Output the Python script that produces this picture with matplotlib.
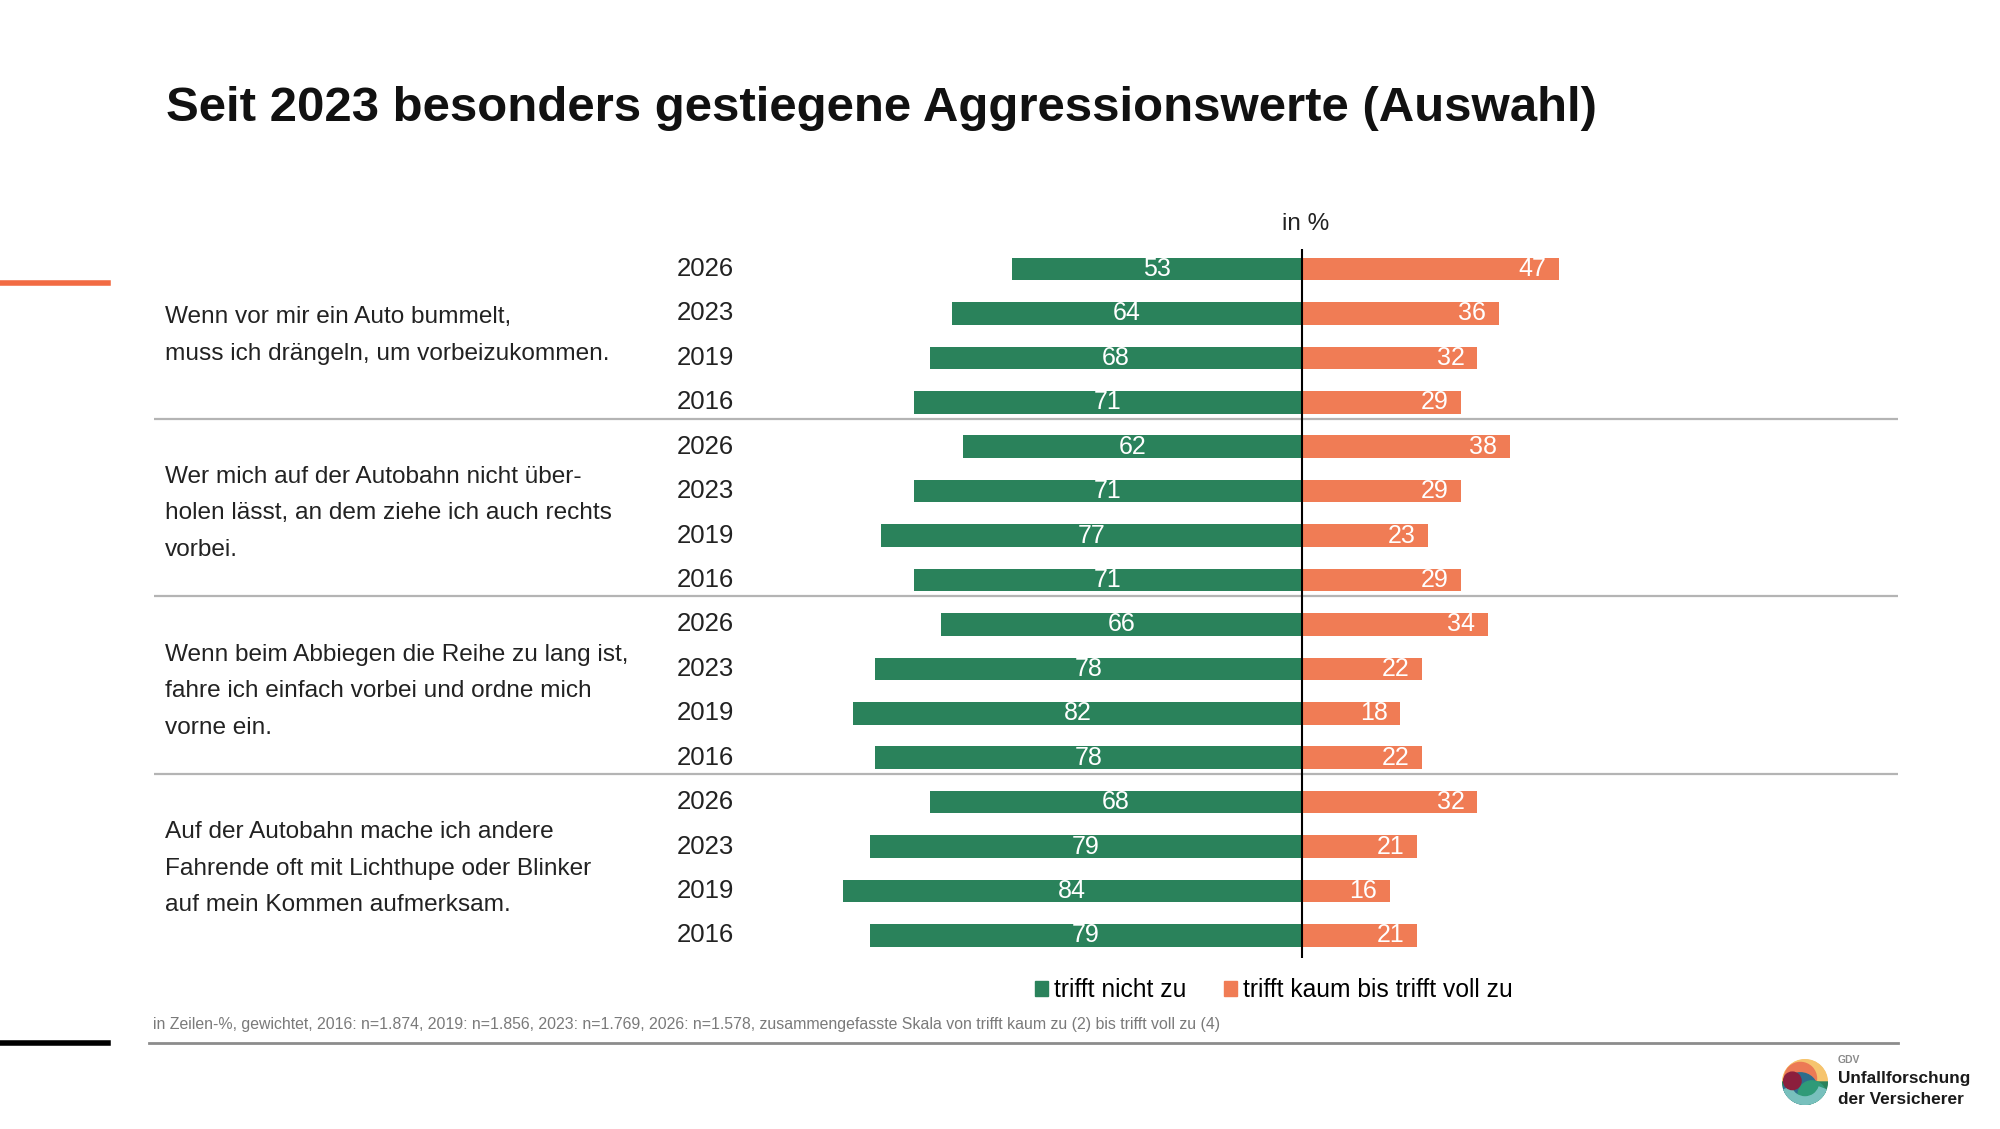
import matplotlib.pyplot as plt
from matplotlib.lines import Line2D
from matplotlib.patches import Circle, Wedge, Patch

plt.rcParams['font.family'] = ['Liberation Sans', 'DejaVu Sans']

# Daten
statements = [
    'Wenn vor mir ein Auto bummelt,\nmuss ich drängeln, um vorbeizukommen.',
    'Wer mich auf der Autobahn nicht über-\nholen lässt, an dem ziehe ich auch rechts\nvorbei.',
    'Wenn beim Abbiegen die Reihe zu lang ist,\nfahre ich einfach vorbei und ordne mich\nvorne ein.',
    'Auf der Autobahn mache ich andere\nFahrende oft mit Lichthupe oder Blinker\nauf mein Kommen aufmerksam.',
]
years = ['2026', '2023', '2019', '2016']
trifft_nicht = [53, 64, 68, 71, 62, 71, 77, 71, 66, 78, 82, 78, 68, 79, 84, 79]
trifft_voll = [47, 36, 32, 29, 38, 29, 23, 29, 34, 22, 18, 22, 32, 21, 16, 21]

title = 'Seit 2023 besonders gestiegene Aggressionswerte (Auswahl)'
footnote = ('in Zeilen-%, gewichtet, 2016: n=1.874, 2019: n=1.856, 2023: n=1.769, '
            '2026: n=1.578, zusammengefasste Skala von trifft kaum zu (2) bis trifft voll zu (4)')

GREEN = '#2a825b'
ORANGE = '#f07c55'
W, H = 2000, 1129


def fx(px):
    return px / W


def fy(py):
    return 1 - py / H


fig = plt.figure(figsize=(20, 11.29), dpi=100)

# Achse: x=0 bei 1302px, 5.47px pro Prozent
ppu = 5.47
x0 = 1302
left_px, right_px = 154, 1898
top_px, bot_px = 249, 958
row0, step = 269.0, 44.43
ax = fig.add_axes([fx(left_px), fy(bot_px), (right_px - left_px) / W, (bot_px - top_px) / H])
ax.set_xlim((left_px - x0) / ppu, (right_px - x0) / ppu)
ax.set_ylim((bot_px - row0) / step, (top_px - row0) / step)
ax.axis('off')

rows = list(range(len(trifft_nicht)))
ax.barh(rows, [-v for v in trifft_nicht], height=0.51, color=GREEN)
ax.barh(rows, trifft_voll, height=0.51, color=ORANGE)

for i, (g, o) in enumerate(zip(trifft_nicht, trifft_voll)):
    ax.text(-g / 2, i, str(g), color='white', fontsize=18, ha='center', va='center')
    ax.text(o - 2.3, i, str(o), color='white', fontsize=18, ha='right', va='center')
    ax.text((677 - x0) / ppu, i, years[i % 4], fontsize=18.5, ha='left', va='center', color='#222222')

for k, s in enumerate(statements):
    ax.text((165 - x0) / ppu, 4 * k + 1.5, s, fontsize=17.6, ha='left', va='center',
            linespacing=1.85, color='#222222')

for sep in [3.37, 7.37, 11.37]:
    ax.axhline(sep, color='#b4b4b4', lw=1.6)
ax.axvline(0, color='black', lw=1.5)

# Titel und Beschriftungen
fig.text(fx(166), fy(121), title, fontsize=35.4, fontweight='bold', va='baseline', color='#111111')
fig.text(fx(1306), fy(224), 'in %', fontsize=17.5, ha='center', va='center', color='#222222')

handles = [Patch(color=GREEN, label='trifft nicht zu'),
           Patch(color=ORANGE, label='trifft kaum bis trifft voll zu')]
fig.legend(handles=handles, loc='center', bbox_to_anchor=(fx(1274), fy(990)), ncol=2,
           frameon=False, fontsize=17.7, handlelength=0.55, handleheight=0.55,
           handletextpad=0.25, columnspacing=1.5)

fig.text(fx(153), fy(1024), footnote, fontsize=11.4, color='#7a7a7a', va='center')

# Linien
fig.add_artist(Line2D([fx(149), fx(1898)], [fy(1043), fy(1043)], color='#8c8c8c', lw=2))
fig.add_artist(Line2D([0, fx(108)], [fy(283), fy(283)], color='#f26b43', lw=4))
fig.add_artist(Line2D([0, fx(108)], [fy(1043), fy(1043)], color='black', lw=4))

# Logo
lax = fig.add_axes([fx(1782), fy(1105), 46 / W, 46 / H])
lax.set_xlim(-1, 1)
lax.set_ylim(-1, 1)
lax.set_aspect('equal')
lax.axis('off')
clip = Circle((0, 0), 1, transform=lax.transData)
parts = [
    Wedge((0, 0), 1, 0, 180, color='#f6c46e'),
    Wedge((0, 0), 1, 180, 360, color='#2a825b'),
    Circle((-0.2, 0.15), 0.7, color='#ec7a55'),
    Circle((-0.2, -0.35), 0.75, color='#2d6d8c'),
    Circle((0.3, -0.55), 0.6, color='#2f9a78'),
    Wedge((0, 0), 1, 200, 340, width=0.35, color='#78c0bd'),
    Circle((-0.55, 0.05), 0.38, color='#8c1f3d'),
]
for p in parts:
    lax.add_patch(p)
    p.set_clip_path(clip)

fig.text(fx(1838), fy(1060), 'GDV', fontsize=7.5, fontweight='bold', color='#8a8a8a', va='center')
fig.text(fx(1838), fy(1079), 'Unfallforschung', fontsize=12.4, fontweight='bold', color='#1a1a1a', va='center')
fig.text(fx(1838), fy(1099), 'der Versicherer', fontsize=12.4, fontweight='bold', color='#1a1a1a', va='center')

fig.savefig('out.png', dpi=100)
